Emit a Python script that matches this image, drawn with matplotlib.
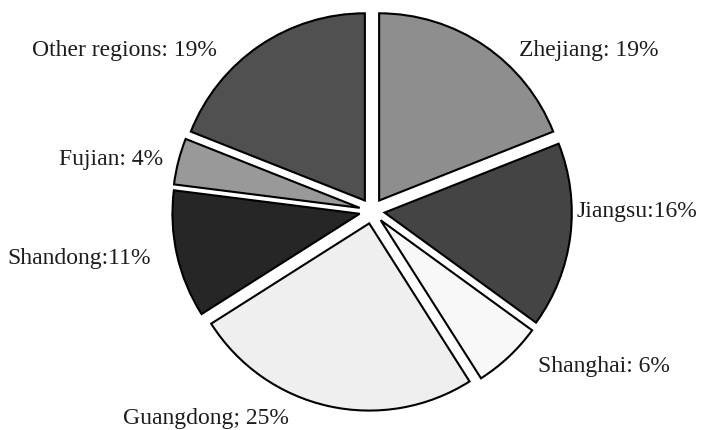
import matplotlib
matplotlib.use("Agg")
import matplotlib.pyplot as plt

# data (clockwise from 12 o'clock)
regions = ["Zhejiang", "Jiangsu", "Shanghai", "Guangdong", "Shandong", "Fujian", "Other regions"]
shares = [19, 16, 6, 25, 11, 4, 19]
labels = ["Zhejiang: 19%", "Jiangsu:16%", "Shanghai: 6%", "Guangdong; 25%",
          "Shandong:11%", "Fujian: 4%", "Other regions: 19%"]

colors = ["#8e8e8e", "#444444", "#f8f8f8", "#efefef", "#262626", "#999999", "#505050"]

# label anchors in pie-radius units (layout only)
label_xy = [(1.11, 0.83), (1.05, 0.0), (1.19, -0.79), (-0.85, -1.06),
            (-1.50, -0.24), (-1.34, 0.27), (-1.27, 0.83)]
label_ha = ["center", "left", "center", "center", "center", "center", "center"]

W, H = 704, 431
R_PX = 195
CX, CY = 372, 219  # pie centre in pixels from bottom-left

fig = plt.figure(figsize=(W / 100, H / 100), dpi=100)
half = 1.12
ax = fig.add_axes([(CX - half * R_PX) / W, (CY - half * R_PX) / H,
                   2 * half * R_PX / W, 2 * half * R_PX / H])

ax.pie(shares, colors=colors, startangle=90, counterclock=False,
       explode=[0.065] * len(shares), radius=0.96,
       wedgeprops=dict(edgecolor="black", linewidth=1.5))
ax.set_xlim(-half, half)
ax.set_ylim(-half, half)
ax.set_aspect("equal")
ax.axis("off")

for lab, (x, y), ha in zip(labels, label_xy, label_ha):
    ax.text(x, y, lab, ha=ha, va="center", fontsize=17,
            family="Liberation Serif", color="#1c1c1c", clip_on=False)

fig.savefig("out.png", dpi=100)
